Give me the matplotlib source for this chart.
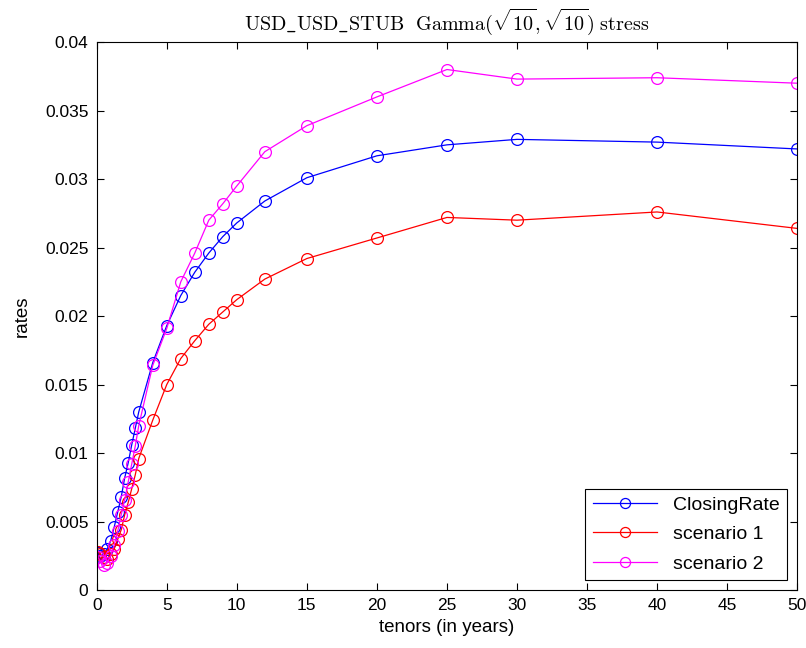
import matplotlib
matplotlib.use("Agg")
import matplotlib.pyplot as plt

# ── Data ────────────────────────────────────────────────────────────────────

tenors = [0.083, 0.25, 0.5, 0.75, 1, 1.25, 1.5, 1.75, 2, 2.25, 2.5, 2.75, 3,
          4, 5, 6, 7, 8, 9, 10, 12, 15, 20, 25, 30, 40, 50]

closing_rate = [0.0027, 0.0025, 0.0026, 0.0030, 0.0036, 0.0046, 0.0057, 0.0068,
                0.0082, 0.0093, 0.0106, 0.0118, 0.0130, 0.0166, 0.0193, 0.0215,
                0.0232, 0.0246, 0.0258, 0.0268, 0.0284, 0.0301, 0.0317, 0.0325,
                0.0329, 0.0327, 0.0322]

scenario_1 = [0.0028, 0.0026, 0.0024, 0.0023, 0.0026, 0.0030, 0.0037, 0.0044,
              0.0055, 0.0064, 0.0074, 0.0084, 0.0096, 0.0124, 0.0150, 0.0169,
              0.0182, 0.0194, 0.0203, 0.0212, 0.0227, 0.0242, 0.0257, 0.0272,
              0.0270, 0.0276, 0.0264]

scenario_2 = [0.0024, 0.0021, 0.0018, 0.0020, 0.0025, 0.0033, 0.0043, 0.0055,
              0.0066, 0.0079, 0.0092, 0.0105, 0.0120, 0.0164, 0.0191, 0.0225,
              0.0246, 0.0270, 0.0282, 0.0295, 0.0320, 0.0339, 0.0360, 0.0380,
              0.0373, 0.0374, 0.0370]

x_ticks = list(range(0, 51, 5))
y_ticks = [0, 0.005, 0.01, 0.015, 0.02, 0.025, 0.03, 0.035, 0.04]
y_tick_labels = ["0", "0.005", "0.01", "0.015", "0.02", "0.025", "0.03", "0.035", "0.04"]

# ── Plot ────────────────────────────────────────────────────────────────────

plt.rcParams["font.family"] = ["Liberation Sans", "DejaVu Sans"]
plt.rcParams["mathtext.fontset"] = "cm"

fig = plt.figure(figsize=(8.06, 6.48), dpi=100)
ax = fig.add_axes([0.120, 0.0895, 0.869, 0.8455])

series = [
    (closing_rate, "#0000ff", "ClosingRate"),
    (scenario_1, "#ff0000", "scenario 1"),
    (scenario_2, "#ff00ff", "scenario 2"),
]
for values, color, label in series:
    ax.plot(tenors, values, color=color, linewidth=0.9, marker="o", markersize=8.5,
            markerfacecolor="none", markeredgecolor=color, markeredgewidth=0.9,
            label=label)

ax.set_xlim(0, 50)
ax.set_ylim(0, 0.04)
ax.set_xticks(x_ticks)
ax.set_yticks(y_ticks)
ax.set_yticklabels(y_tick_labels)
ax.tick_params(direction="in", length=5, labelsize=12.5, top=True, right=True,
               width=0.8, pad=6)
for spine in ax.spines.values():
    spine.set_linewidth(0.8)

ax.set_xlabel("tenors (in years)", fontsize=13.5, labelpad=4)
ax.set_ylabel("rates", fontsize=13.5, labelpad=10)
ax.set_title(r"$\mathrm{USD\_USD\_STUB\ \ Gamma}(\sqrt{10},\sqrt{10})\ \mathrm{stress}$",
             fontsize=14.5, pad=9)

leg = ax.legend(loc="lower right", fontsize=14, fancybox=False, framealpha=1,
                edgecolor="black", borderaxespad=0.5, handlelength=3.3,
                labelspacing=0.6, borderpad=0.4, markerscale=0.85)
leg.get_frame().set_linewidth(0.8)

fig.savefig("out.png", dpi=100)
